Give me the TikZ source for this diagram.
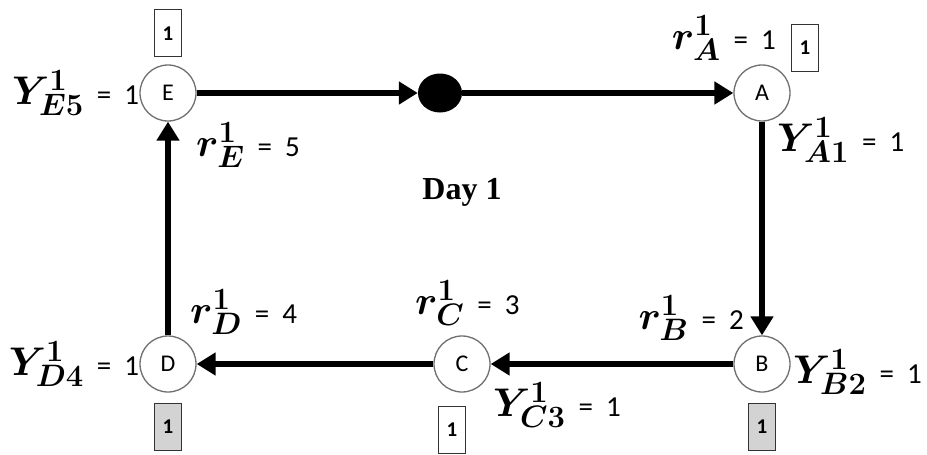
\RequirePackage{fix-cm}
\documentclass[tikz,border=0pt]{standalone}
\usepackage{amsmath}
\usepackage{bm}
\usepackage{fontspec}
\setmainfont{Carlito}
\newfontfamily\dayfont{Liberation Serif}
\DeclareMathSizes{40}{40}{31}{24}
\usetikzlibrary{shapes.geometric, arrows.meta, positioning}
\definecolor{ringgray}{HTML}{707070}
\definecolor{markgray}{HTML}{D3D3D3}
\tikzstyle{station} = [circle, minimum size=56pt, inner sep=0pt, draw=ringgray, line width=1.3pt, fill=white, font=\fontsize{24}{24}\selectfont]
\tikzstyle{hub} = [ellipse, minimum width=44pt, minimum height=39pt, inner sep=0pt, fill=black]
\tikzstyle{tag} = [rectangle, minimum width=27pt, minimum height=47pt, inner sep=0pt, draw=black!80, line width=1.3pt, font=\bfseries\fontsize{21}{21}\selectfont]
\tikzstyle{varlabel} = [inner sep=0pt, font=\fontsize{29}{29}\selectfont]
\tikzstyle{arrow} = [line width=6.5pt, -{Triangle[length=19pt, width=22pt]}]
\newcommand{\varval}[2]{{\fontsize{40}{40}\selectfont$\bm{#1}$}\hspace{0.45em}=\hspace{0.45em}#2}

\begin{document}
\begin{tikzpicture}[x=1pt, y=-1pt]
    \useasboundingbox (0,0) rectangle (927,455);

    \node[station] (E) at (168,93) {E};
    \node[hub] (hub) at (440,93) {};
    \node[station] (A) at (762,93) {A};
    \node[station] (B) at (762,364) {B};
    \node[station] (C) at (462,364) {C};
    \node[station] (D) at (168,364) {D};

    \draw[arrow] (E) -- (hub);
    \draw[arrow] (hub) -- (A);
    \draw[arrow] (A) -- (B);
    \draw[arrow] (B) -- (C);
    \draw[arrow] (C) -- (D);
    \draw[arrow] (D) -- (E);

    % Tags
    \node[tag, above=7pt of E] (tagE) {1};
    \node[tag] (tagA) at (805,48) {1};
    \node[tag, fill=markgray, below=10pt of B] (tagB) {1};
    \node[tag] (tagC) at (452,430) {1};
    \node[tag, fill=markgray, below=10pt of D] (tagD) {1};

    % Labels
    \node[varlabel, left=0pt of E] (yE) {\varval{Y^1_{E5}}{1}};
    \node[varlabel, anchor=west] (rE) at (196,145) {\varval{r^1_E}{5}};
    \node[varlabel, anchor=east] (rA) at (776,38) {\varval{r^1_A}{1}};
    \node[varlabel, anchor=west] (yA) at (777,140) {\varval{Y^1_{A1}}{1}};
    \node[varlabel, anchor=east] (rB) at (744,318) {\varval{r^1_B}{2}};
    \node[varlabel, anchor=west] (yB) at (793,372) {\varval{Y^1_{B2}}{1}};
    \node[varlabel, anchor=west] (rC) at (415,303) {\varval{r^1_C}{3}};
    \node[varlabel, anchor=west] (yC) at (493,405) {\varval{Y^1_{C3}}{1}};
    \node[varlabel, anchor=west] (rD) at (190,312) {\varval{r^1_D}{4}};
    \node[varlabel, left=0pt of D] (yD) {\varval{Y^1_{D4}}{1}};
    \node[font=\dayfont\bfseries\fontsize{32}{32}\selectfont] (day) at (462,192) {Day 1};
\end{tikzpicture}
\end{document}
